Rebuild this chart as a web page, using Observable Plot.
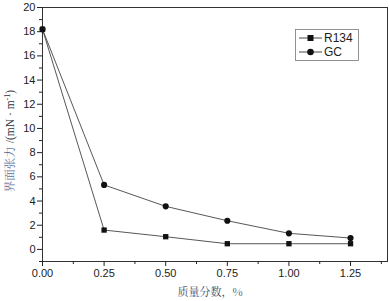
<!DOCTYPE html>
<html><head><meta charset="utf-8">
<script src="https://cdn.jsdelivr.net/npm/d3@7"></script>
<script src="https://cdn.jsdelivr.net/npm/@observablehq/plot@0.6"></script>
<style>body{margin:0;background:#fff}#c{position:relative;width:389px;height:301px}</style>
</head><body><div id="c"></div>
<script>
const fractions = [0, 0.25, 0.5, 0.75, 1.0, 1.25];
const r134 = [18.2, 1.6, 1.05, 0.47, 0.47, 0.47];
const gc = [18.2, 5.33, 3.56, 2.37, 1.33, 0.94];
const seriesNames = ["R134", "GC"];
const xTicks = [0, 0.25, 0.5, 0.75, 1.0, 1.25];
const xMinor = [0.125, 0.375, 0.625, 0.875, 1.125, 1.375];
const yTicks = [0, 2, 4, 6, 8, 10, 12, 14, 16, 18, 20];
const yMinor = [-1, 1, 3, 5, 7, 9, 11, 13, 15, 17, 19];

const rows = [];
fractions.forEach((f, i) => {
  rows.push({x: f, y: r134[i], s: seriesNames[0]});
  rows.push({x: f, y: gc[i], s: seriesNames[1]});
});
const font = "'Liberation Sans', Arial, sans-serif";
const chart = Plot.plot({
  width: 389, height: 301,
  marginLeft: 42, marginRight: 2, marginTop: 7, marginBottom: 40,
  style: {fontFamily: font, fontSize: "11px", color: "#222", background: "#fff"},
  x: {domain: [0, 1.4]},
  y: {domain: [-1, 20]},
  marks: [
    Plot.frame({stroke: "#333", strokeWidth: 1}),
    Plot.axisX({ticks: xTicks, tickFormat: d3.format(".2f"), tickSize: 5, tickPadding: 3, label: null, stroke: "#222", fill: "#222"}),
    Plot.axisX({ticks: xMinor, tickSize: 3, text: null, label: null, stroke: "#222"}),
    Plot.axisY({ticks: yTicks, tickSize: 5, tickPadding: 2, label: null, stroke: "#222", fill: "#222"}),
    Plot.axisY({ticks: yMinor, tickSize: 3, text: null, label: null, stroke: "#222"}),
    Plot.line(rows, {x: "x", y: "y", z: "s", stroke: "#444", strokeWidth: 0.9}),
    Plot.dot(rows, {x: "x", y: "y", symbol: d => d.s === "R134" ? "square" : "circle", r: d => d.s === "R134" ? 3.6 : 3.8, fill: "#111", stroke: "none"})
  ]
});
document.getElementById("c").appendChild(chart);
const svg = d3.select(chart);
// legend
const lg = svg.append("g").attr("text-anchor", "start");
lg.append("rect").attr("x", 295.5).attr("y", 29.5).attr("width", 63).attr("height", 31).attr("fill", "#fff").attr("stroke", "#777").attr("stroke-width", 0.8);
seriesNames.forEach((n, i) => {
  const yy = 38 + i * 14;
  lg.append("line").attr("x1", 299).attr("x2", 322).attr("y1", yy).attr("y2", yy).attr("stroke", "#333").attr("stroke-width", 0.9);
  if (i === 0) lg.append("rect").attr("x", 307.5).attr("y", yy - 3).attr("width", 6).attr("height", 6).attr("fill", "#111");
  else lg.append("circle").attr("cx", 310.5).attr("cy", yy).attr("r", 3.3).attr("fill", "#111");
  lg.append("text").attr("x", 324).attr("y", yy + 4).attr("font-size", 12).attr("font-family", font).attr("fill", "#222").text(n);
});
// axis labels
svg.append("text").attr("x", 210).attr("y", 296).attr("text-anchor", "middle").attr("font-size", 11)
  .attr("font-family", "'Noto Serif CJK SC','Noto Sans CJK SC',serif").attr("fill", "#3a4a66").text("质量分数，%");
const yl = svg.append("text").attr("transform", "translate(14,141) rotate(-90)").attr("text-anchor", "middle").attr("font-size", 11.5)
  .attr("font-family", "'Noto Serif CJK SC','Noto Sans CJK SC',serif");
yl.append("tspan").attr("fill", "#5a7099").text("界面张力 ");
yl.append("tspan").attr("fill", "#333").attr("font-family", "'Liberation Serif',serif").text("/(mN · m");
yl.append("tspan").attr("fill", "#333").attr("font-family", "'Liberation Serif',serif").attr("font-size", 8).attr("dy", -4).text("-1");
yl.append("tspan").attr("fill", "#333").attr("font-family", "'Liberation Serif',serif").attr("dy", 4).text(")");
</script></body></html>
